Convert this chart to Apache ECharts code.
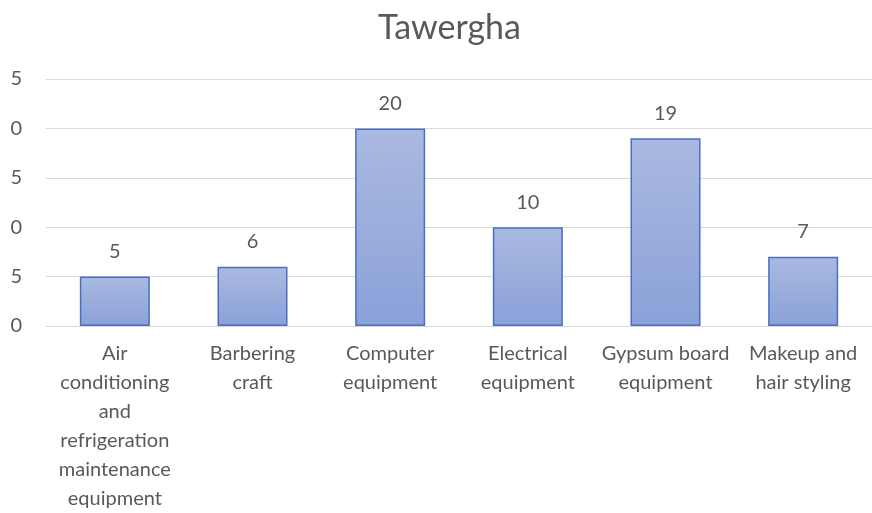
<!DOCTYPE html>
<html><head><meta charset="utf-8">
<script src="https://cdn.jsdelivr.net/npm/echarts@6/dist/echarts.min.js"></script>
<style>html,body{margin:0;padding:0;background:#fff;overflow:hidden}#c{width:872px;height:513px}</style>
</head><body><div id="c"></div>
<script>
const categories = [
  "Air\nconditioning\nand\nrefrigeration\nmaintenance\nequipment",
  "Barbering\ncraft",
  "Computer\nequipment",
  "Electrical\nequipment",
  "Gypsum board\nequipment",
  "Makeup and\nhair styling"
];
const values = [5, 6, 20, 10, 19, 7];
const yTickLabels = ["0", "5", "0", "5", "0", "5"]; // as visible (left digits cropped)
const titleText = "Tawergha";

const FONT = "Lato, 'Open Sans', sans-serif";
const chart = echarts.init(document.getElementById('c'), null, {renderer: 'canvas', width: 872, height: 513});
chart.setOption({
  animation: false,
  backgroundColor: '#ffffff',
  title: {
    text: titleText,
    left: 373, top: 6,
    textStyle: {fontFamily: FONT, fontSize: 34, fontWeight: 'normal', color: '#595959'}
  },
  grid: {left: 46, right: -9, top: 79, height: 256, containLabel: false},
  xAxis: {
    type: 'category',
    data: categories,
    axisLine: {show: true, lineStyle: {color: '#d9d9d9', width: 1}},
    axisTick: {show: false},
    axisLabel: {
      interval: 0, margin: 13,
      fontFamily: FONT, fontSize: 20, color: '#595959',
      lineHeight: 29, align: 'center'
    }
  },
  yAxis: {
    type: 'value', min: 0, max: 25, interval: 5,
    axisLine: {show: false}, axisTick: {show: false},
    splitLine: {lineStyle: {color: '#d9d9d9', width: 1}},
    axisLabel: {
      margin: 24, fontFamily: FONT, fontSize: 20, color: '#595959',
      formatter: function (v) { return yTickLabels[Math.round(v / 5)]; }
    }
  },
  series: [{
    type: 'bar',
    data: values,
    barWidth: 70,
    itemStyle: {
      color: new echarts.graphic.LinearGradient(0, 0, 0, 1, [
        {offset: 0, color: '#aab9e0'},
        {offset: 1, color: '#8aa1d9'}
      ]),
      borderColor: '#4a6fbf', borderWidth: 1.5
    },
    label: {
      show: true, position: 'top', distance: 15,
      fontFamily: FONT, fontSize: 20, color: '#595959'
    }
  }]
});
</script></body></html>
